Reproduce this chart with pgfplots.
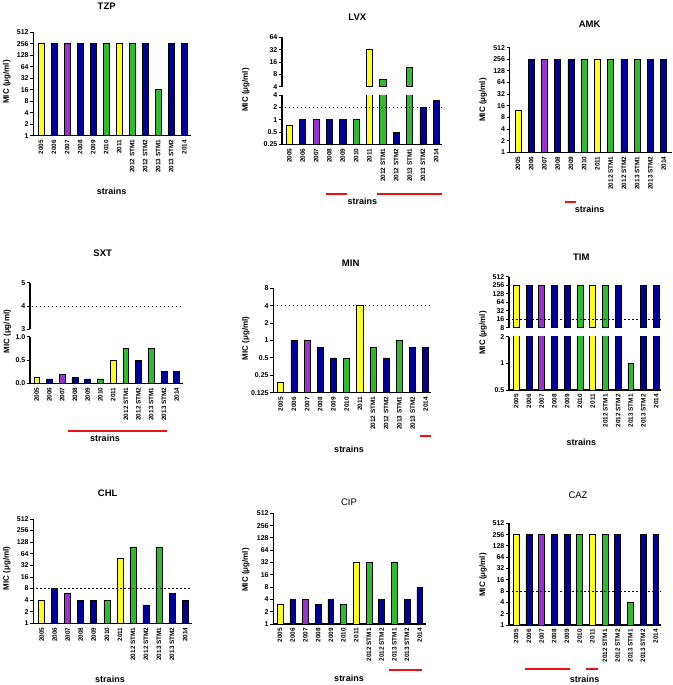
\documentclass[border=0pt]{standalone}
\usepackage{fontspec}
\setmainfont{Liberation Sans}
\usepackage{pgfplots}
\pgfplotsset{compat=1.18}
\definecolor{cy}{HTML}{FFFF1A}
\definecolor{cb}{HTML}{000099}
\definecolor{cp}{HTML}{9933CC}
\definecolor{cg}{HTML}{2EBB2E}
\definecolor{redmark}{HTML}{EE1111}
\newcommand\xf{\bfseries\fontsize{6.4}{7}\selectfont}
\newcommand\yf{\bfseries\fontsize{7}{8}\selectfont}
\pgfplotsset{
 panel/.style={scale only axis, anchor=south west, ybar, bar shift=0pt, bar width=0.46,
  axis x line*=bottom, axis y line*=left,
  axis line style={line width=1.3pt,-},
  ytick style={black,line width=0.9pt},
  tick align=outside, major tick length=3pt,
  xtick={0,...,11},
  xticklabels={2005,2006,2007,2008,2009,2010,2011,2012 STM1,2012 STM2,2013 STM1,2013 STM2,2014},
  xtick style={draw=none},
  x tick label style={rotate=90, anchor=east, font=\xf, inner sep=1pt},
  y tick label style={font=\yf, inner sep=1.5pt},
  every axis plot/.append style={draw=black, line width=0.6pt},
 },
 upper/.style={axis x line=none, xtick=\empty},
 thr/.style={sharp plot, forget plot, draw=black, line width=1pt, dash pattern=on 1.1pt off 2.9pt},
}
\newcommand\bars[4]{%
\addplot[fill=cy] coordinates {#1};
\addplot[fill=cb] coordinates {#2};
\addplot[fill=cp] coordinates {#3};
\addplot[fill=cg] coordinates {#4};}
\newcommand\ttl[3]{\node[font=\bfseries\fontsize{9.5}{10}\selectfont] at (#1pt,-#2pt) {#3};}
\newcommand\ttr[3]{\node[font=\fontsize{9.5}{10}\selectfont] at (#1pt,-#2pt) {#3};}
\newcommand\ylab[2]{\node[rotate=90,font=\bfseries\fontsize{8}{9}\selectfont] at (#1pt,-#2pt) {MIC (μg/ml)};}
\newcommand\strains[2]{\node[font=\bfseries\fontsize{9}{10}\selectfont] at (#1pt,-#2pt) {strains};}
\newcommand\redl[3]{\fill[redmark] (#1pt,-#3pt+1pt) rectangle (#2pt,-#3pt-1pt);}
\begin{document}
\begin{tikzpicture}
\path[use as bounding box] (0,0) rectangle (672pt,-685pt);
% TZP
\begin{axis}[panel, ymode=log, log basis y=2, log origin=infty, ymin=1, ymax=512,
 ytick={1,2,4,8,16,32,64,128,256,512}, yticklabels={1,2,4,8,16,32,64,128,256,512},
 at={(33.3pt,-135.7pt)}, width=157.4pt, height=103.4pt, xmin=-0.59, xmax=11.49]
\bars{(0,256)(6,256)}{(1,256)(3,256)(4,256)(8,256)(10,256)(11,256)}{(2,256)}{(5,256)(7,256)(9,16)}
\end{axis}
% LVX upper (only the bars that reach above 4)
\begin{axis}[panel, ymode=log, log basis y=2, log origin=infty, upper, at={(282pt,-86.7pt)}, width=160.3pt, height=49.4pt, xmin=-0.55, xmax=11.45,
 ymin=4, ymax=64, ytick={4,8,16,32,64}, yticklabels={4,8,16,32,64}]
\addplot[fill=cy] coordinates {(6,32)};
\addplot[fill=cg] coordinates {(7,6)(9,12)};
\end{axis}
% LVX lower
\begin{axis}[panel, ymode=log, log basis y=2, log origin=infty, at={(282pt,-144.5pt)}, width=160.3pt, height=49.5pt, xmin=-0.55, xmax=11.45,
 ymin=0.25, ymax=4, ytick={0.25,0.5,1,2,4}, yticklabels={0.25,0.5,1,2,4}]
\bars{(0,0.75)(6,32)}{(1,1)(3,1)(4,1)(8,0.5)(10,2)(11,3)}{(2,1)}{(5,1)(7,6)(9,12)}
\addplot[thr] coordinates {(-0.3,2)(11.45,2)};
\end{axis}
% AMK
\begin{axis}[panel, ymode=log, log basis y=2, log origin=infty, ymin=1, ymax=512,
 ytick={1,2,4,8,16,32,64,128,256,512}, yticklabels={1,2,4,8,16,32,64,128,256,512},
 at={(509.7pt,-152.3pt)}, width=161.8pt, height=104.6pt, xmin=-0.63, xmax=11.6]
\bars{(0,12)(6,256)}{(1,256)(3,256)(4,256)(8,256)(10,256)(11,256)}{(2,256)}{(5,256)(7,256)(9,256)}
\end{axis}
% SXT upper
\begin{axis}[panel, upper, at={(30pt,-329.3pt)}, width=152.7pt, height=46.6pt, xmin=-0.53, xmax=11.47,
 ymin=3, ymax=5, ytick={3,4,5}, yticklabels={3,4,5}]
\addplot[thr] coordinates {(-0.4,4)(11.47,4)};
\end{axis}
% SXT lower
\begin{axis}[panel, at={(30pt,-383.3pt)}, width=152.7pt, height=46.6pt, xmin=-0.53, xmax=11.47,
 ymin=0, ymax=1, ytick={0,0.5,1}, yticklabels={0.0,0.5,1.0}]
\bars{(0,0.125)(6,0.5)}{(1,0.094)(3,0.125)(4,0.094)(8,0.5)(10,0.25)(11,0.25)}{(2,0.19)}{(5,0.094)(7,0.75)(9,0.75)}
\end{axis}
% MIN
\begin{axis}[panel, ymode=log, log basis y=2, log origin=infty, at={(273.3pt,-392.7pt)}, width=158pt, height=104.4pt, xmin=-0.56, xmax=11.42,
 ymin=0.125, ymax=8, ytick={0.125,0.25,0.5,1,2,4,8}, yticklabels={0.125,0.25,0.5,1,2,4,8}]
\bars{(0,0.19)(6,4)}{(1,1)(3,0.75)(4,0.5)(8,0.5)(10,0.75)(11,0.75)}{(2,1)}{(5,0.5)(7,0.75)(9,1)}
\addplot[thr] coordinates {(-0.3,4)(11.42,4)};
\end{axis}
% TIM upper (only the bars that reach above 8)
\begin{axis}[panel, ymode=log, log basis y=2, log origin=infty, upper, at={(509pt,-327.7pt)}, width=152.3pt, height=51pt, xmin=-0.57, xmax=11.4,
 ymin=8, ymax=512, ytick={8,16,32,64,128,256,512}, yticklabels={8,16,32,64,128,256,512}]
\bars{(0,256)(6,256)}{(1,256)(3,256)(4,256)(8,256)(10,256)(11,256)}{(2,256)}{(5,256)(7,256)}
\addplot[thr] coordinates {(-0.3,16)(11.4,16)};
\end{axis}
% TIM lower
\begin{axis}[panel, ymode=log, log basis y=2, log origin=infty, at={(509pt,-390pt)}, width=152.3pt, height=53.3pt, xmin=-0.57, xmax=11.4,
 ymin=0.5, ymax=2, ytick={0.5,1,2}, yticklabels={0.5,1,2}]
\bars{(0,256)(6,256)}{(1,256)(3,256)(4,256)(8,256)(10,256)(11,256)}{(2,256)}{(5,256)(7,256)(9,1)}
\end{axis}
% CHL
\begin{axis}[panel, ymode=log, log basis y=2, log origin=infty, ymin=1, ymax=512,
 ytick={1,2,4,8,16,32,64,128,256,512}, yticklabels={1,2,4,8,16,32,64,128,256,512},
 at={(33.3pt,-623.3pt)}, width=158.4pt, height=104.3pt, xmin=-0.64, xmax=11.51]
\bars{(0,4)(6,48)}{(1,8)(3,4)(4,4)(8,3)(10,6)(11,4)}{(2,6)}{(5,4)(7,96)(9,96)}
\addplot[thr] coordinates {(-0.4,8)(11.51,8)};
\end{axis}
% CIP
\begin{axis}[panel, ymode=log, log basis y=2, log origin=infty, ymin=1, ymax=512,
 ytick={1,2,4,8,16,32,64,128,256,512}, yticklabels={1,2,4,8,16,32,64,128,256,512},
 at={(273.3pt,-624pt)}, width=152.4pt, height=110.7pt, xmin=-0.53, xmax=11.47]
\bars{(0,3)(6,32)}{(1,4)(3,3)(4,4)(8,4)(10,4)(11,8)}{(2,4)}{(5,3)(7,32)(9,32)}
\end{axis}
% CAZ
\begin{axis}[panel, ymode=log, log basis y=2, log origin=infty, ymin=1, ymax=512,
 ytick={1,2,4,8,16,32,64,128,256,512}, yticklabels={1,2,4,8,16,32,64,128,256,512},
 at={(509pt,-625pt)}, width=152.3pt, height=101.7pt, xmin=-0.57, xmax=11.44]
\bars{(0,256)(6,256)}{(1,256)(3,256)(4,256)(8,256)(10,256)(11,256)}{(2,256)}{(5,256)(7,256)(9,4)}
\addplot[thr] coordinates {(-0.3,8)(11.44,8)};
\end{axis}
% titles
\ttl{106.7}{6.7}{TZP}
\ttl{357.3}{17.3}{LVX}
\ttl{589.7}{24}{AMK}
\ttl{102.7}{253.3}{SXT}
\ttl{350.7}{263.3}{MIN}
\ttl{581.3}{257.7}{TIM}
\ttl{107.7}{493.3}{CHL}
\ttr{349}{502.3}{CIP}
\ttr{578}{495.7}{CAZ}
% y labels
\ylab{6.7}{82}
\ylab{245.7}{90}
\ylab{483}{100}
\ylab{7.3}{331.7}
\ylab{245.7}{338.3}
\ylab{483}{333}
\ylab{6.7}{568.3}
\ylab{245.7}{570}
\ylab{483}{575}
% strains
\strains{111.7}{191.7}
\strains{362.3}{201.7}
\strains{589.7}{209.3}
\strains{105}{438.3}
\strains{349}{449}
\strains{581.3}{442.7}
\strains{110}{679.3}
\strains{349}{678.3}
\strains{584.7}{679.3}
% red marks
\redl{326}{347}{193.5}
\redl{376.7}{442.3}{193.5}
\redl{564.7}{576.3}{201.7}
\redl{68.3}{167.3}{431}
\redl{420}{431.3}{435.7}
\redl{389}{422.3}{670}
\redl{524.7}{570.3}{669}
\redl{586.3}{598}{669}
\end{tikzpicture}
\end{document}
